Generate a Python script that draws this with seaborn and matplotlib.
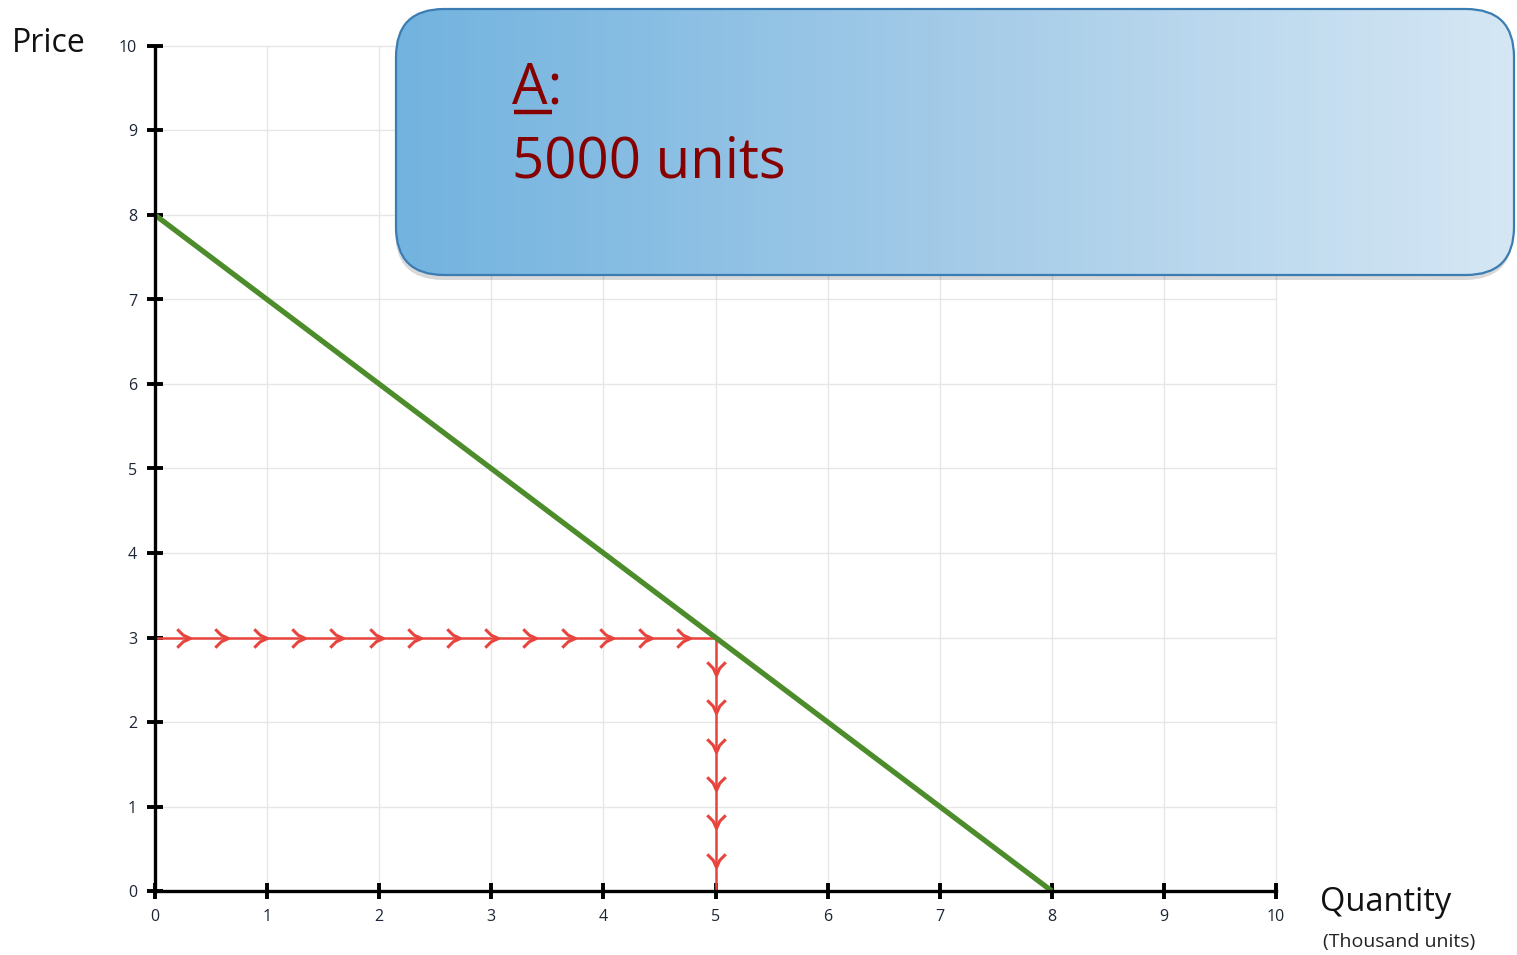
import numpy as np
import pandas as pd
import matplotlib
matplotlib.use("Agg")
import matplotlib.pyplot as plt
import seaborn as sns
from matplotlib.path import Path
from matplotlib.patches import FancyBboxPatch
from matplotlib.colors import LinearSegmentedColormap

# ---- data ----
demand_qty = [0, 8]
demand_price = [8, 0]
eq_qty = 5
eq_price = 3
x_ticks = list(range(0, 11))
y_ticks = list(range(0, 11))
h_arrow_x = [0.31, 0.65, 1.0, 1.34, 1.68, 2.03, 2.37, 2.72, 3.06, 3.40, 3.75, 4.09, 4.43, 4.77]
v_arrow_y = [2.56, 2.11, 1.65, 1.20, 0.75, 0.28]
callout_title = "A:"
callout_text = "5000 units"

sns.set_style("white")
plt.rcParams['font.family'] = ['Open Sans', 'DejaVu Sans']

W, H = 1517, 955
fig = plt.figure(figsize=(W / 100, H / 100), dpi=100)
ax = fig.add_axes([155 / W, 64 / H, 1121 / W, 845 / H])
ax.set_xlim(0, 10)
ax.set_ylim(0, 10)

# grid
for v in x_ticks[1:]:
    ax.axvline(v, color="#e6e6e6", lw=1.0, zorder=0)
for v in y_ticks[1:]:
    ax.axhline(v, color="#e6e6e6", lw=1.0, zorder=0)

green = "#4c8c2b"
red = "#e8443e"

dem = pd.DataFrame({"q": demand_qty, "p": demand_price})
sns.lineplot(data=dem, x="q", y="p", color=green, lw=3.8, ax=ax, zorder=4,
             solid_capstyle="butt")

hline = pd.DataFrame({"q": [0, eq_qty], "p": [eq_price, eq_price]})
vline = pd.DataFrame({"q": [eq_qty, eq_qty], "p": [eq_price, 0]})
sns.lineplot(data=hline, x="q", y="p", color=red, lw=1.8, ax=ax, zorder=3)
sns.lineplot(data=vline, x="q", y="p", color=red, lw=1.8, ax=ax, zorder=3,
             sort=False, estimator=None)

right_chev = Path([(-1.0, 0.7), (-0.55, 0.25), (0, 0), (-0.55, -0.25), (-1.0, -0.7)],
                  [Path.MOVETO, Path.LINETO, Path.LINETO, Path.LINETO, Path.LINETO])
down_chev = Path([(-0.7, 1.0), (-0.25, 0.55), (0, 0), (0.25, 0.55), (0.7, 1.0)],
                 [Path.MOVETO, Path.LINETO, Path.LINETO, Path.LINETO, Path.LINETO])
ax.plot(h_arrow_x, [eq_price] * len(h_arrow_x), ls="none", marker=right_chev,
        ms=19, mfc="none", mec=red, mew=2.2, zorder=3, clip_on=False)
ax.plot([eq_qty] * len(v_arrow_y), v_arrow_y, ls="none", marker=down_chev,
        ms=19, mfc="none", mec=red, mew=2.2, zorder=3, clip_on=False)

for l in ax.lines:
    l.set_clip_on(False)

ax.set_xticks(x_ticks)
ax.set_yticks(y_ticks)
ax.tick_params(axis="both", direction="inout", length=12, width=2.8,
               color="black", labelsize=11.5, labelcolor="#1c2535", pad=7,
               bottom=True, left=True)
for s in ["top", "right"]:
    ax.spines[s].set_visible(False)
for s in ["left", "bottom"]:
    ax.spines[s].set_linewidth(2.4)
    ax.spines[s].set_color("black")
    ax.spines[s].set_zorder(5)
ax.set_xlabel("")
ax.set_ylabel("")

# ---- overlay in pixel coordinates ----
ov = fig.add_axes([0, 0, 1, 1], zorder=10)
ov.set_xlim(0, W)
ov.set_ylim(H, 0)
ov.axis("off")
ov.patch.set_alpha(0)

ov.text(12, 44, "Price", fontsize=23, color="#111111", va="center", ha="left")
ov.text(1320, 902, "Quantity", fontsize=23.5, color="#111111", va="center", ha="left")
ov.text(1323, 942, "(Thousand units)", fontsize=14, color="#222222", va="center", ha="left")

# callout box
bx0, by0, bx1, by1 = 396, 9, 1514, 275
rad = 48
shadow = FancyBboxPatch((bx0 - 1, by0 + 5), bx1 - bx0, by1 - by0,
                        boxstyle=f"round,pad=0,rounding_size={rad}",
                        fc="#000000", ec="none", alpha=0.15, zorder=1)
ov.add_patch(shadow)
box = FancyBboxPatch((bx0, by0), bx1 - bx0, by1 - by0,
                     boxstyle=f"round,pad=0,rounding_size={rad}",
                     fc="none", ec="#3b7db3", lw=1.6, zorder=3)
ov.add_patch(box)
cmap = LinearSegmentedColormap.from_list("g", ["#72b3df", "#a4cbe8", "#d5e7f4"])
grad = np.linspace(0, 1, 256).reshape(1, -1)
im = ov.imshow(grad, cmap=cmap, extent=(bx0, bx1, by1, by0), aspect="auto", zorder=2)
clip = FancyBboxPatch((bx0, by0), bx1 - bx0, by1 - by0,
                      boxstyle=f"round,pad=0,rounding_size={rad}",
                      fc="none", ec="none", transform=ov.transData)
im.set_clip_path(clip)
ov.set_xlim(0, W)
ov.set_ylim(H, 0)

dark_red = "#860000"
ov.text(512, 104, callout_title, fontsize=40.5, color=dark_red, va="baseline", ha="left", zorder=4)
ov.plot([514, 552], [112, 112], color=dark_red, lw=3.2, solid_capstyle="butt", zorder=4)
ov.text(512, 178, callout_text, fontsize=40.5, color=dark_red, va="baseline", ha="left", zorder=4)

fig.savefig("out.png", dpi=100)
